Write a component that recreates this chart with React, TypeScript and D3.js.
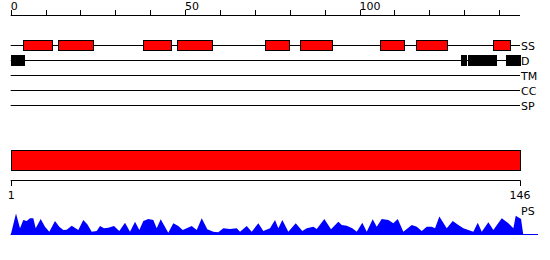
import React from "react";
import * as d3 from "d3";

const seqLength = 146;
const topTickLabels = [0, 50, 100];
const trackNames = ["SS", "D", "TM", "CC", "SP"];
// SS segments (residue units)
const ssSegments: [number, number][] = [
  [3.6, 11.8], [13.7, 23.8], [37.8, 45.9], [47.8, 57.8], [73.0, 79.9],
  [82.8, 92.1], [106.0, 113.0], [116.1, 125.1], [138.2, 143.1],
];
// Disorder segments
const dSegments: [number, number][] = [
  [0, 3.8], [129.0, 130.3], [131.0, 139.1], [142.1, 146.2],
];
const domainBar: [number, number] = [0, 146];
const bottomLabels = ["1", "146"];
// PS profile: positions and values
const psPos = [
  0, 1.52, 2.67, 3.61, 4.59, 5.53, 6.48, 7.17, 8.6, 9.83, 11.07, 12.7, 13.93, 15.08, 16.05,
  17.49, 19.38, 20.81, 21.96, 23.22, 24.66, 25.6, 26.75, 27.98, 29.6, 31.13, 32.77, 34.2,
  35.64, 36.87, 38.02, 39.45, 40.88, 41.86, 43.0, 45.18, 46.62, 48.05, 49.31, 50.46, 51.89,
  53.33, 54.76, 56.36, 58.08, 59.52, 60.95, 62.87, 64.79, 65.74, 67.66, 69.09, 70.99, 72.42,
  74.34, 75.77, 76.72, 77.87, 79.59, 81.71, 83.6, 84.86, 86.76, 87.73, 89.91, 91.83, 93.92,
  94.9, 96.33, 97.94, 99.2, 100.8, 102.06, 103.78, 104.93, 106.36, 108.26, 109.69, 110.95,
  112.56, 114.97, 116.4, 117.83, 119.27, 120.7, 121.65, 122.88, 125.0, 126.72, 128.33,
  129.76, 131.19, 132.63, 133.89, 135.04, 136.93, 138.36, 140.77, 142.66, 144.1, 144.78,
  146.3, 146.95,
];
const psVal = [
  0, 0.94, 0.29, 0.65, 0.61, 0.73, 0.73, 0.29, 0.7, 0.36, 0.14, 0.61, 0.36, 0.22, 0.23,
  0.4, 0.22, 0.65, 0.47, 0.14, 0.17, 0.39, 0.29, 0.32, 0.39, 0.17, 0.53, 0.14,
  0.58, 0.22, 0.61, 0.7, 0.65, 0.29, 0.68, 0.1, 0.51, 0.39, 0.22, 0.29, 0.39,
  0.22, 0.73, 0.25, 0.14, 0.12, 0.29, 0.26, 0.29, 0.14, 0.39, 0.14, 0.51, 0.17,
  0.29, 0.65, 0.29, 0.65, 0.14, 0.51, 0.17, 0.29, 0.36, 0.26, 0.7, 0.25, 0.58,
  0.43, 0.4, 0.29, 0.14, 0.53, 0.14, 0.68, 0.36, 0.7, 0.65, 0.51, 0.7,
  0.14, 0.43, 0.36, 0.17, 0.36, 0.36, 0.29, 0.8, 0.29, 0.61, 0.43,
  0.29, 0.22, 0.14, 0.53, 0.14, 0.55, 0.22, 0.73, 0.51, 0.29, 0.84,
  0.7, 0,
];

const FONT = "DejaVu Sans, sans-serif";

export default function App() {
  const x = d3.scaleLinear().domain([0, seqLength]).range([10.7, 520]);
  const yPS = d3.scaleLinear().domain([0, 1]).range([235, 212]);
  const trackY = (i: number) => 45 + i * 15;
  const topTicks = d3.range(0, seqLength, 10);

  const psData = psPos.map((p, i) => [p, psVal[i]] as [number, number]);
  const area = d3
    .area<[number, number]>()
    .x((d) => x(d[0]))
    .y0(yPS(0))
    .y1((d) => yPS(d[1]));

  return (
    <div style={{ position: "absolute", left: 0, top: 0 }}>
      <svg width={550} height={260} style={{ display: "block" }} fontFamily={FONT}>
        <rect width={550} height={260} fill="#fff" />
        {/* top axis */}
        <line x1={x(0)} x2={x(seqLength)} y1={15.5} y2={15.5} stroke="#000" />
        {topTicks.map((t) => (
          <line key={t} x1={Math.round(x(t)) + 0.5} x2={Math.round(x(t)) + 0.5} y1={10} y2={15.5} stroke="#000" />
        ))}
        {topTickLabels.map((t) => (
          <text key={t} x={x(t)} y={10} fontSize={11} fill="#000">
            {t}
          </text>
        ))}
        {/* tracks */}
        {trackNames.map((n, i) => (
          <g key={n}>
            <line x1={x(0)} x2={x(seqLength)} y1={trackY(i) + 0.5} y2={trackY(i) + 0.5} stroke="#000" />
            <text x={521} y={trackY(i) + 4.5} fontSize={11} fill="#000">
              {n}
            </text>
          </g>
        ))}
        {ssSegments.map((s, i) => (
          <rect
            key={"ss" + i}
            x={Math.round(x(s[0])) + 0.5}
            y={40.5}
            width={Math.round(x(s[1]) - x(s[0]))}
            height={10}
            fill="#ff0000"
            stroke="#000"
          />
        ))}
        {dSegments.map((s, i) => (
          <rect
            key={"d" + i}
            x={Math.round(x(s[0])) + 0.5}
            y={55.5}
            width={Math.round(x(s[1]) - x(s[0]))}
            height={10}
            fill="#000"
            stroke="#000"
          />
        ))}
        {/* domain bar */}
        <rect
          x={Math.round(x(domainBar[0])) + 0.5}
          y={150.5}
          width={Math.round(x(domainBar[1]) - x(domainBar[0]))}
          height={20}
          fill="#ff0000"
          stroke="#000"
        />
        {/* bottom axis */}
        <line x1={x(0)} x2={x(seqLength) + 0.5} y1={180.5} y2={180.5} stroke="#000" />
        {[0, seqLength].map((t, i) => (
          <g key={t}>
            <line x1={Math.round(x(t)) + 0.5} x2={Math.round(x(t)) + 0.5} y1={180.5} y2={186} stroke="#000" />
            <text x={x(t) + (i === 0 ? 0.5 : 0)} y={199} fontSize={11} textAnchor="middle" fill="#000">
              {bottomLabels[i]}
            </text>
          </g>
        ))}
        {/* PS */}
        <path d={area(psData) || ""} fill="#0000ff" />
        <line x1={x(0)} x2={538} y1={234.5} y2={234.5} stroke="#0000ff" />
        <text x={521} y={215} fontSize={11} fill="#000">
          PS
        </text>
      </svg>
    </div>
  );
}
